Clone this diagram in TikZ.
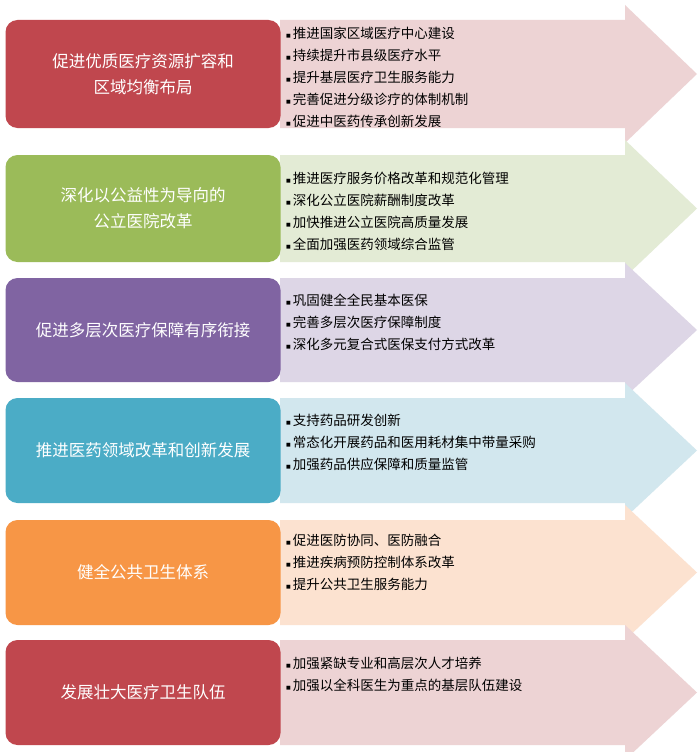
\documentclass[tikz,border=0pt]{standalone}
\usepackage{fontspec}
\setmainfont{Noto Sans CJK SC}
\usetikzlibrary{calc}
\definecolor{c1}{HTML}{C0474E}\definecolor{a1}{HTML}{EDD3D4}
\definecolor{c2}{HTML}{9BBB59}\definecolor{a2}{HTML}{E3EBD5}
\definecolor{c3}{HTML}{8064A2}\definecolor{a3}{HTML}{DDD6E6}
\definecolor{c4}{HTML}{4BACC6}\definecolor{a4}{HTML}{D2E7EE}
\definecolor{c5}{HTML}{F79646}\definecolor{a5}{HTML}{FCE2D0}
\definecolor{c6}{HTML}{C0474E}\definecolor{a6}{HTML}{EDD3D4}
\tikzset{x=1pt,y=-1pt,
 lbox/.style={rounded corners=12pt,text=white,font=\fontsize{16.5}{26}\selectfont,align=center},
 item/.style={anchor=west,font=\fontsize{13.5}{15}\selectfont,inner sep=0pt}}
\newcommand{\row}[5]{% top bottom fill arrowfill name
 \fill[#4] (280,#1) -- (625,#1) -- (625,#1-15) -- (697,{(#1+#2)/2}) -- (625,#2+15) -- (625,#2) -- (280,#2) -- cycle;
 \node[lbox,fill=#3,minimum width=275pt,minimum height=#2-#1,inner sep=0pt] (#5) at (143,{(#1+#2)/2}) {};
}
\newcommand{\bul}[3]{\node[item] (#1) at (286,#2) {\raisebox{1pt}{\fontspec{DejaVu Sans}\tiny ■}\hspace{2pt}#3};}
\begin{document}
\begin{tikzpicture}
\useasboundingbox (0,0) rectangle (700,752);
\fill[white] (0,0) rectangle (700,752);
\row{20}{128}{c1}{a1}{b1}
\node[lbox] at (b1) {促进优质医疗资源扩容和\\区域均衡布局};
\bul{i11}{33}{推进国家区域医疗中心建设}
\bul{i12}{55}{持续提升市县级医疗水平}
\bul{i13}{77}{提升基层医疗卫生服务能力}
\bul{i14}{99}{完善促进分级诊疗的体制机制}
\bul{i15}{121}{促进中医药传承创新发展}
\row{155}{262}{c2}{a2}{b2}
\node[lbox] at (b2) {深化以公益性为导向的\\公立医院改革};
\bul{i21}{178}{推进医疗服务价格改革和规范化管理}
\bul{i22}{200}{深化公立医院薪酬制度改革}
\bul{i23}{222}{加快推进公立医院高质量发展}
\bul{i24}{244}{全面加强医药领域综合监管}
\row{278}{382}{c3}{a3}{b3}
\node[lbox] at (b3) {促进多层次医疗保障有序衔接};
\bul{i31}{300}{巩固健全全民基本医保}
\bul{i32}{322}{完善多层次医疗保障制度}
\bul{i33}{344}{深化多元复合式医保支付方式改革}
\row{398}{503}{c4}{a4}{b4}
\node[lbox] at (b4) {推进医药领域改革和创新发展};
\bul{i41}{420}{支持药品研发创新}
\bul{i42}{442}{常态化开展药品和医用耗材集中带量采购}
\bul{i43}{464}{加强药品供应保障和质量监管}
\row{520}{625}{c5}{a5}{b5}
\node[lbox] at (b5) {健全公共卫生体系};
\bul{i51}{540}{促进医防协同、医防融合}
\bul{i52}{562}{推进疾病预防控制体系改革}
\bul{i53}{584}{提升公共卫生服务能力}
\row{640}{745}{c6}{a6}{b6}
\node[lbox] at (b6) {发展壮大医疗卫生队伍};
\bul{i61}{663}{加强紧缺专业和高层次人才培养}
\bul{i62}{685}{加强以全科医生为重点的基层队伍建设}
\end{tikzpicture}
\end{document}
